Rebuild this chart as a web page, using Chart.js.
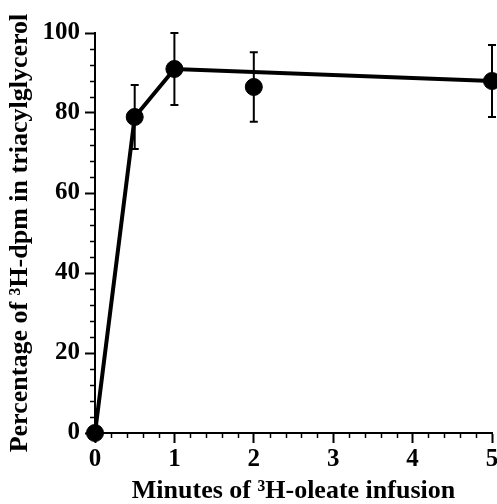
<!DOCTYPE html>
<html>
<head>
<meta charset="utf-8">
<script src="https://cdn.jsdelivr.net/npm/chart.js@4/dist/chart.umd.min.js"></script>
<style>
html,body{margin:0;padding:0;background:#fff;}
#wrap{width:497px;height:504px;position:relative;}
</style>
</head>
<body>
<div id="wrap"><canvas id="c" width="497" height="504"></canvas></div>
<script>
// Measured points (minutes, % of 3H-dpm in triacylglycerol, error)
const minutes = [0, 0.5, 1, 2, 5];
const percentMean = [0, 79, 91, 86.5, 88];
const percentErr = [0, 8, 9, 8.7, 9];
// Drawn curve through the data
const curveMinutes = [0, 0.5, 1, 5];
const curvePercent = [0, 79, 91, 88];
// Axis ticks
const xTicks = [0, 1, 2, 3, 4, 5];
const yTicks = [0, 20, 40, 60, 80, 100];
const xMinorStep = 0.2;
const yMinorStep = 4;

const FONT = "'Liberation Serif', 'Times New Roman', serif";

const pointsData = minutes.map((m, i) => ({x: m, y: percentMean[i]}));
const curveData = curveMinutes.map((m, i) => ({x: m, y: curvePercent[i]}));

const extrasPlugin = {
  id: 'extras',
  beforeDraw(chart) {
    const ctx = chart.ctx;
    ctx.save();
    ctx.fillStyle = '#fff';
    ctx.fillRect(0, 0, chart.width, chart.height);
    ctx.restore();
  },
  afterDatasetsDraw(chart) {
    const ctx = chart.ctx;
    const xs = chart.scales.x, ys = chart.scales.y;
    ctx.save();
    ctx.strokeStyle = '#000';
    ctx.lineWidth = 2;
    // error bars
    minutes.forEach((m, i) => {
      const e = percentErr[i];
      if (!e) return;
      const px = xs.getPixelForValue(m);
      const top = ys.getPixelForValue(percentMean[i] + e);
      const bot = ys.getPixelForValue(percentMean[i] - e);
      ctx.beginPath();
      ctx.moveTo(px, top); ctx.lineTo(px, bot);
      ctx.moveTo(px - 4, top); ctx.lineTo(px + 4, top);
      ctx.moveTo(px - 4, bot); ctx.lineTo(px + 4, bot);
      ctx.stroke();
    });
    // minor ticks
    ctx.lineWidth = 1.5;
    const ca = chart.chartArea;
    for (let v = 0; v <= 100 + 1e-9; v += yMinorStep) {
      if (Math.abs(v % 20) < 1e-6) continue;
      const py = Math.round(ys.getPixelForValue(v)) + 0.5;
      ctx.beginPath(); ctx.moveTo(ca.left - 5, py); ctx.lineTo(ca.left, py); ctx.stroke();
    }
    for (let k = 0; k <= 25; k++) {
      const v = k * xMinorStep;
      if (k % 5 === 0) continue;
      const px = Math.round(xs.getPixelForValue(v)) + 0.5;
      ctx.beginPath(); ctx.moveTo(px, ca.bottom); ctx.lineTo(px, ca.bottom + 5); ctx.stroke();
    }
    ctx.restore();
  }
};

new Chart(document.getElementById('c'), {
  type: 'scatter',
  data: {
    datasets: [
      {
        type: 'line',
        data: curveData,
        borderColor: '#000',
        borderWidth: 4,
        pointRadius: 0,
        fill: false,
        tension: 0,
        clip: false,
        order: 2
      },
      {
        type: 'scatter',
        data: pointsData,
        backgroundColor: '#000',
        borderColor: '#000',
        pointRadius: 8.5,
        clip: false,
        order: 1
      }
    ]
  },
  options: {
    responsive: false,
    animation: false,
    devicePixelRatio: 1,
    layout: {autoPadding: false, padding: {top: 33, right: 0, left: 0, bottom: 0}},
    plugins: {legend: {display: false}, tooltip: {enabled: false}},
    scales: {
      x: {
        type: 'linear', min: 0, max: 5,
        afterBuildTicks(s) { s.ticks = xTicks.map(v => ({value: v})); },
        afterFit(s) { s.height = 71; s.paddingRight = 5; s.paddingLeft = 0; },
        grid: {drawOnChartArea: false, drawTicks: true, tickLength: 10, tickWidth: 2, tickColor: '#000'},
        border: {display: true, color: '#000', width: 2},
        ticks: {color: '#000', padding: 3, font: {family: FONT, size: 25, weight: 'bold', lineHeight: 1.1}, maxRotation: 0},
        title: {display: true, text: 'Minutes of ³H-oleate infusion', color: '#000', padding: {top: 3, bottom: 0},
                font: {family: FONT, size: 26, weight: 'bold', lineHeight: 1.0}}
      },
      y: {
        type: 'linear', min: 0, max: 100,
        afterBuildTicks(s) { s.ticks = yTicks.map(v => ({value: v})); },
        afterFit(s) { s.width = 95; },
        grid: {drawOnChartArea: false, drawTicks: true, tickLength: 10, tickWidth: 2, tickColor: '#000'},
        border: {display: true, color: '#000', width: 2},
        ticks: {color: '#000', padding: 5, font: {family: FONT, size: 25, weight: 'bold'}},
        title: {display: true, text: 'Percentage of ³H-dpm in triacylglycerol', color: '#000', padding: {top: 6, bottom: 0},
                font: {family: FONT, size: 26, weight: 'bold', lineHeight: 1.1}}
      }
    }
  },
  plugins: [extrasPlugin]
});
</script>
</body>
</html>
